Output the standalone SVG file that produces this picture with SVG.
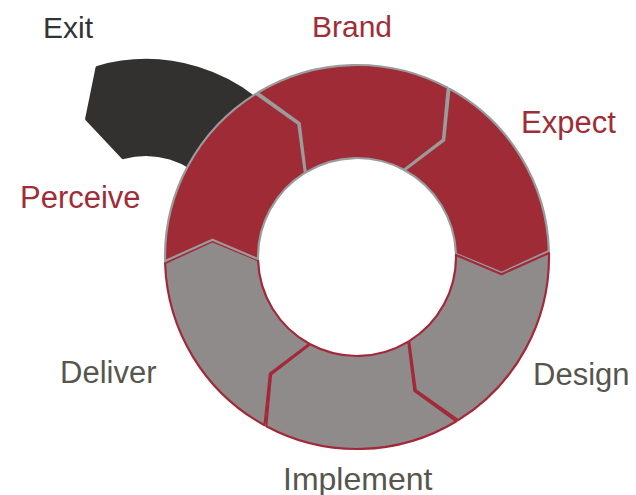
<svg xmlns="http://www.w3.org/2000/svg" width="636" height="495" viewBox="0 0 636 495">
<style>
.red{fill:#9e2b35;stroke:#9b9b9b;stroke-width:2.2;stroke-linejoin:round}
.gry{fill:#8f8b8a;stroke:#a3293a;stroke-width:2.2;stroke-linejoin:round}
.lbl{font-family:"Liberation Sans",Arial,sans-serif;font-size:31px}
.lr{fill:#9f2d38}
.lg{fill:#56564e}
</style>
<defs>
<path id="seg" d="M358.01,65.00 A192,192 0 0 1 522.77,160.13 L491.62,201.79 L442.48,207.05 A99,99 0 0 0 357.52,158.00 L378.00,113.02 Z"/>
</defs>
<rect width="636" height="495" fill="#ffffff"/>
<g id="exit">
<path d="M97.5,67.8 A176,176 0 0 1 280.8,123.9 L209.6,183.6 A83,83 0 0 0 123.1,157.2 L87.1,118.9 Z" fill="#323130" stroke="#323130" stroke-width="4" stroke-linejoin="round"/>
</g>
<g id="brand">
<use href="#seg" class="red" transform="rotate(-31.5 357 257)"/>
</g>
<g id="expect">
<use href="#seg" class="red" transform="rotate(28.5 357 257)"/>
</g>
<g id="design">
<use href="#seg" class="gry" transform="rotate(88.5 357 257)"/>
</g>
<g id="implement">
<use href="#seg" class="gry" transform="rotate(148.5 357 257)"/>
</g>
<g id="deliver">
<use href="#seg" class="gry" transform="rotate(208.5 357 257)"/>
</g>
<g id="perceive">
<use href="#seg" class="red" transform="rotate(268.5 357 257)"/>
</g>
<g id="labels">
<text class="lbl" x="43" y="38" fill="#333333" style="font-size:30px">Exit</text>
<text class="lbl lr" x="312" y="37" style="font-size:30px">Brand</text>
<text class="lbl lr" x="521" y="133">Expect</text>
<text class="lbl lr" x="20" y="208">Perceive</text>
<text class="lbl lg" x="60" y="383">Deliver</text>
<text class="lbl lg" x="533" y="385">Design</text>
<text class="lbl lg" x="283" y="490" style="font-size:32px">Implement</text>
</g>
</svg>
